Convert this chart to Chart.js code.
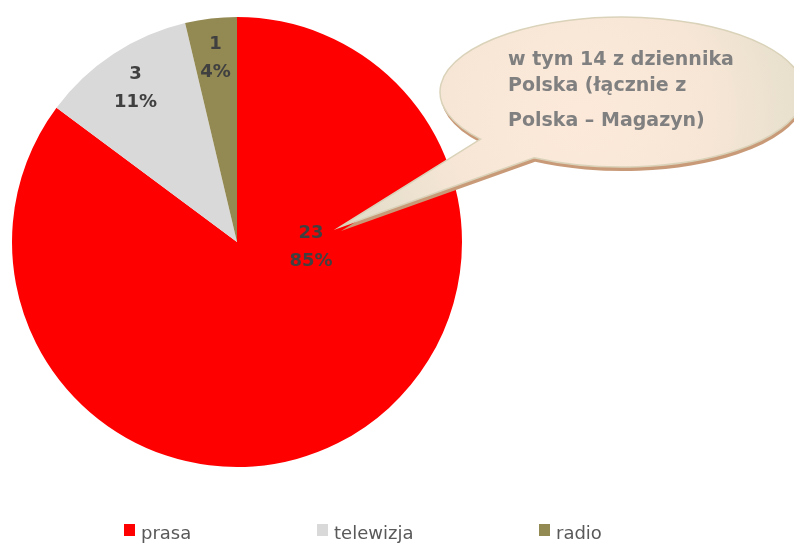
<!DOCTYPE html>
<html>
<head>
<meta charset="utf-8">
<script src="https://cdn.jsdelivr.net/npm/chart.js@4/dist/chart.umd.min.js"></script>
<style>
  body { margin: 0; background: #fff; }
  #wrap { position: relative; width: 794px; height: 543px; }
  #legend { position: absolute; left: 0; top: 524px; width: 794px; height: 19px; }
  .item { position: absolute; top: 0; display: flex; align-items: flex-start; }
  .box { width: 11px; height: 12px; margin-right: 6px; }
  .txt { font-family: "DejaVu Sans", sans-serif; font-size: 18px; line-height: 18px; color: #595959; margin-top: 0px; }
</style>
</head>
<body>
<div id="wrap">
  <canvas id="pie" width="794" height="543"></canvas>
  <div id="legend"></div>
</div>
<script>
const categories = ["prasa", "telewizja", "radio"];
const counts = [23, 3, 1];
const percents = ["85%", "11%", "4%"];
const colors = ["#FF0000", "#D9D9D9", "#938953"];
const calloutLines = ["w tym 14 z dziennika", "Polska (łącznie z", "Polska – Magazyn)"];

// legend (html, left edges of the colour boxes)
const legendLeft = [124, 317, 539];
const legend = document.getElementById("legend");
categories.forEach((c, i) => {
  const it = document.createElement("div");
  it.className = "item";
  it.style.left = legendLeft[i] + "px";
  it.innerHTML = `<span class="box" style="background:${colors[i]}"></span><span class="txt">${c}</span>`;
  legend.appendChild(it);
});

// where each label sits: angle in degrees from top (null = middle of slice), distance as part of radius
const labelPlace = [{ angle: 94, dist: 0.33 }, { angle: null, dist: 0.82 }, { angle: null, dist: 0.82 }];

const sliceLabels = {
  id: "sliceLabels",
  afterDatasetsDraw(chart) {
    const ctx = chart.ctx;
    const arcs = chart.getDatasetMeta(0).data;
    ctx.save();
    ctx.font = "bold 18px 'DejaVu Sans'";
    ctx.fillStyle = "#404040";
    ctx.textAlign = "center";
    ctx.textBaseline = "middle";
    arcs.forEach((arc, i) => {
      const p = labelPlace[i];
      let a = (arc.startAngle + arc.endAngle) / 2;
      if (p.angle !== null) a = (p.angle - 90) * Math.PI / 180;
      const r = arc.outerRadius * p.dist;
      const x = arc.x + Math.cos(a) * r;
      const y = arc.y + Math.sin(a) * r;
      ctx.fillText(String(counts[i]), x, y - 14);
      ctx.fillText(percents[i], x, y + 14);
    });
    ctx.restore();
  }
};

// speech bubble with the note
const callout = {
  id: "callout",
  afterDraw(chart) {
    const ctx = chart.ctx;
    const cx = 622, cy = 92, rx = 182, ry = 75;
    const tip = [340, 227];
    const a1 = Math.atan2((142 - cy) / ry, (472 - cx) / rx);
    const a2 = Math.atan2((163 - cy) / ry, (527 - cx) / rx) + Math.PI * 2;
    const shape = (dx, dy) => {
      ctx.beginPath();
      ctx.moveTo(tip[0] + dx, tip[1] + dy);
      ctx.lineTo(cx + dx + Math.cos(a1) * rx, cy + dy + Math.sin(a1) * ry);
      ctx.ellipse(cx + dx, cy + dy, rx, ry, 0, a1, a2, false);
      ctx.closePath();
    };
    ctx.save();
    shape(1, 4);
    ctx.fillStyle = "#C99A78";
    ctx.fill();
    shape(0, 0);
    const g = ctx.createRadialGradient(580, 115, 5, 580, 115, 260);
    g.addColorStop(0, "#FCE9DA");
    g.addColorStop(0.5, "#F7E6D6");
    g.addColorStop(0.8, "#E9E0CE");
    g.addColorStop(1, "#E2DCC6");
    ctx.fillStyle = g;
    ctx.fill();
    ctx.strokeStyle = "#DAD3BA";
    ctx.lineWidth = 1.5;
    ctx.stroke();

    ctx.font = "bold 19px 'DejaVu Sans'";
    ctx.fillStyle = "#808080";
    ctx.textAlign = "left";
    ctx.textBaseline = "alphabetic";
    const baselines = [65, 91, 126];
    calloutLines.forEach((t, i) => ctx.fillText(t, 508, baselines[i]));
    ctx.restore();
  }
};

new Chart(document.getElementById("pie"), {
  type: "pie",
  data: {
    labels: categories,
    datasets: [{
      data: counts,
      backgroundColor: colors,
      borderWidth: 0
    }]
  },
  options: {
    responsive: false,
    animation: false,
    layout: { padding: { left: 12, top: 17, right: 332, bottom: 76 } },
    plugins: {
      legend: { display: false },
      tooltip: { enabled: false }
    }
  },
  plugins: [sliceLabels, callout]
});
</script>
</body>
</html>
